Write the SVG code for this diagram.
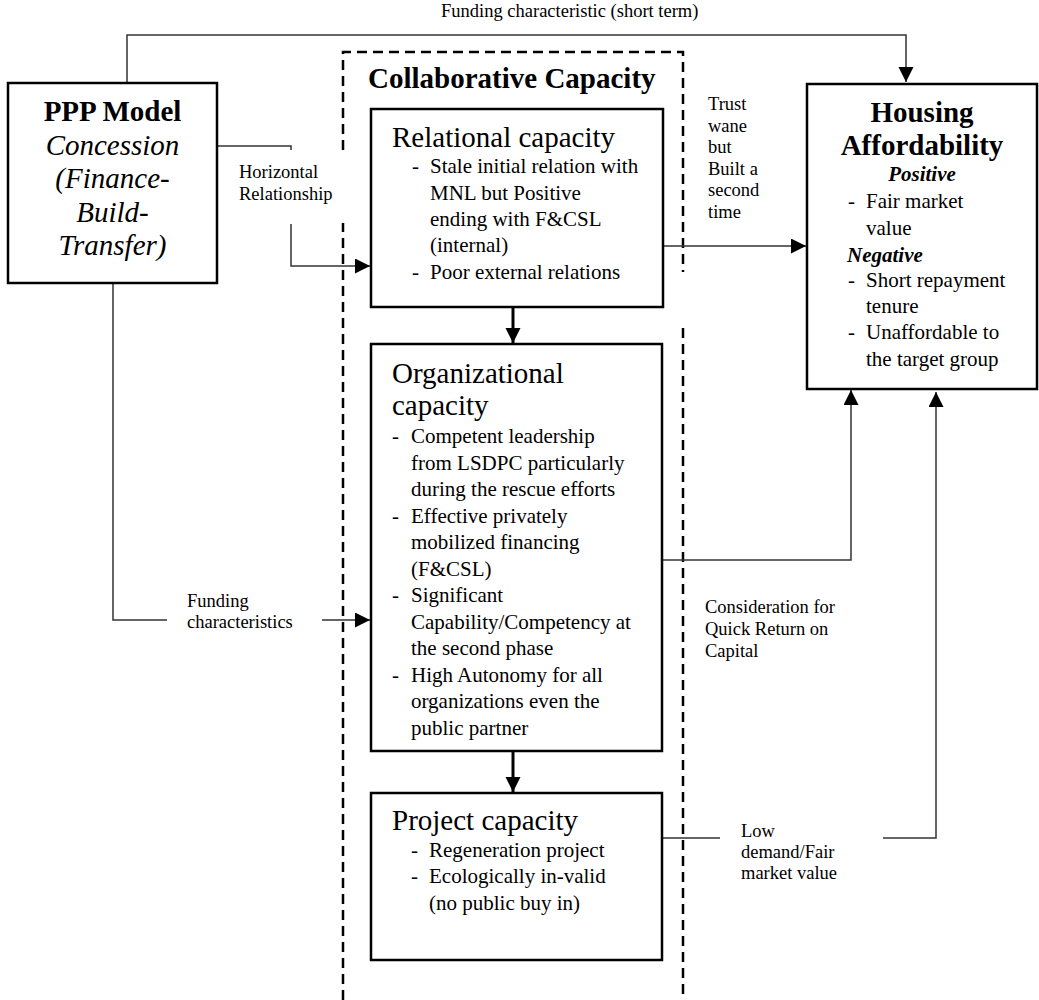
<svg xmlns="http://www.w3.org/2000/svg" width="1039" height="1000" viewBox="0 0 1039 1000">
<style>
text{font-family:"Liberation Serif","Times New Roman",serif;fill:#000}
.box{fill:#fff;stroke:#000;stroke-width:2.5}
.hd{font-size:29px}
.b{font-size:21px}
.lb{font-size:18.5px}
.bold{font-weight:bold}
.it{font-style:italic}
.conn{fill:none;stroke:#333;stroke-width:1.5}
.thick{fill:none;stroke:#000;stroke-width:3}
.dash{fill:none;stroke:#000;stroke-width:2.5;stroke-dasharray:10 6}
</style>
<defs>
<marker id="arr" markerUnits="userSpaceOnUse" markerWidth="16" markerHeight="16" refX="15" refY="7.5" orient="auto">
<path d="M0,0 L15,7.5 L0,15 z" fill="#000"/>
</marker>
</defs>
<rect width="1039" height="1000" fill="#fff"/>

<g id="collab-frame">
<path class="dash" d="M343,1000 V223 M343,150 V52 H683 V272 M683,328 V1000"/>
<text x="368" y="88" class="hd bold">Collaborative Capacity</text>
</g>

<g id="connectors">
<path class="conn" d="M127,83 V35 H906 V82" marker-end="url(#arr)"/>
<path class="conn" d="M212,146 H291 V150"/>
<path class="conn" d="M291,224 V266 H370" marker-end="url(#arr)"/>
<path class="conn" d="M113,283 V620 H167"/>
<path class="conn" d="M322,620 H370" marker-end="url(#arr)"/>
<path class="conn" d="M663,246 H806" marker-end="url(#arr)"/>
<path class="conn" d="M662,560 H851 V390" marker-end="url(#arr)"/>
<path class="conn" d="M662,838 H720"/>
<path class="conn" d="M883,838 H936 V392" marker-end="url(#arr)"/>
<path class="thick" d="M513,307 V343" marker-end="url(#arr)"/>
<path class="thick" d="M513,751 V792" marker-end="url(#arr)"/>
<text x="441" y="17" class="lb">Funding characteristic (short term)</text>
<text class="lb"><tspan x="239" y="178">Horizontal</tspan><tspan x="239" y="200">Relationship</tspan></text>
<text class="lb"><tspan x="187" y="607">Funding</tspan><tspan x="187" y="628">characteristics</tspan></text>
<text class="lb"><tspan x="708" y="110">Trust</tspan><tspan x="708" y="132">wane</tspan><tspan x="708" y="153">but</tspan><tspan x="708" y="175">Built a</tspan><tspan x="708" y="196">second</tspan><tspan x="708" y="218">time</tspan></text>
<text class="lb"><tspan x="705" y="613">Consideration for</tspan><tspan x="705" y="635">Quick Return on</tspan><tspan x="705" y="657">Capital</tspan></text>
<text class="lb"><tspan x="741" y="837">Low</tspan><tspan x="741" y="858">demand/Fair</tspan><tspan x="741" y="879">market value</tspan></text>
</g>

<g id="ppp-model">
<rect class="box" x="8" y="83" width="209" height="200"/>
<text x="112.5" y="121" class="hd bold" text-anchor="middle">PPP Model</text>
<text class="hd it" text-anchor="middle"><tspan x="112.5" y="155">Concession</tspan><tspan x="112.5" y="188">(Finance-</tspan><tspan x="112.5" y="222">Build-</tspan><tspan x="112.5" y="255">Transfer)</tspan></text>
</g>

<g id="relational-capacity">
<rect class="box" x="371" y="109" width="292" height="198"/>
<text x="392" y="147" class="hd">Relational capacity</text>
<text class="b"><tspan x="412" y="173">-</tspan><tspan x="430" y="173">Stale initial relation with</tspan><tspan x="430" y="200">MNL but Positive</tspan><tspan x="430" y="226">ending with F&amp;CSL</tspan><tspan x="430" y="252">(internal)</tspan><tspan x="412" y="279">-</tspan><tspan x="430" y="279">Poor external relations</tspan></text>
</g>

<g id="organizational-capacity">
<rect class="box" x="371" y="344" width="291" height="407"/>
<text class="hd"><tspan x="392" y="383">Organizational</tspan><tspan x="392" y="415">capacity</tspan></text>
<text class="b"><tspan x="392" y="443">-</tspan><tspan x="411" y="443">Competent leadership</tspan><tspan x="411" y="469.5">from LSDPC particularly</tspan><tspan x="411" y="496">during the rescue efforts</tspan><tspan x="392" y="522.5">-</tspan><tspan x="411" y="522.5">Effective privately</tspan><tspan x="411" y="549">mobilized financing</tspan><tspan x="411" y="575.5">(F&amp;CSL)</tspan><tspan x="392" y="602">-</tspan><tspan x="411" y="602">Significant</tspan><tspan x="411" y="628.5">Capability/Competency at</tspan><tspan x="411" y="655">the second phase</tspan><tspan x="392" y="681.5">-</tspan><tspan x="411" y="681.5">High Autonomy for all</tspan><tspan x="411" y="708">organizations even the</tspan><tspan x="411" y="734.5">public partner</tspan></text>
</g>

<g id="project-capacity">
<rect class="box" x="371" y="793" width="291" height="167"/>
<text x="392" y="830" class="hd">Project capacity</text>
<text class="b"><tspan x="411" y="857">-</tspan><tspan x="429" y="857">Regeneration project</tspan><tspan x="411" y="883">-</tspan><tspan x="429" y="883">Ecologically in-valid</tspan><tspan x="429" y="910">(no public buy in)</tspan></text>
</g>

<g id="housing-affordability">
<rect class="box" x="807" y="84" width="230" height="305"/>
<text class="hd bold" text-anchor="middle"><tspan x="922" y="122">Housing</tspan><tspan x="922" y="155">Affordability</tspan></text>
<text x="922" y="181" class="b bold it" text-anchor="middle">Positive</text>
<text class="b"><tspan x="848" y="208">-</tspan><tspan x="866" y="208">Fair market</tspan><tspan x="866" y="235">value</tspan></text>
<text x="847" y="262" class="b bold it">Negative</text>
<text class="b"><tspan x="848" y="287">-</tspan><tspan x="866" y="287">Short repayment</tspan><tspan x="866" y="313">tenure</tspan><tspan x="848" y="339">-</tspan><tspan x="866" y="339">Unaffordable to</tspan><tspan x="866" y="366">the target group</tspan></text>
</g>
</svg>
